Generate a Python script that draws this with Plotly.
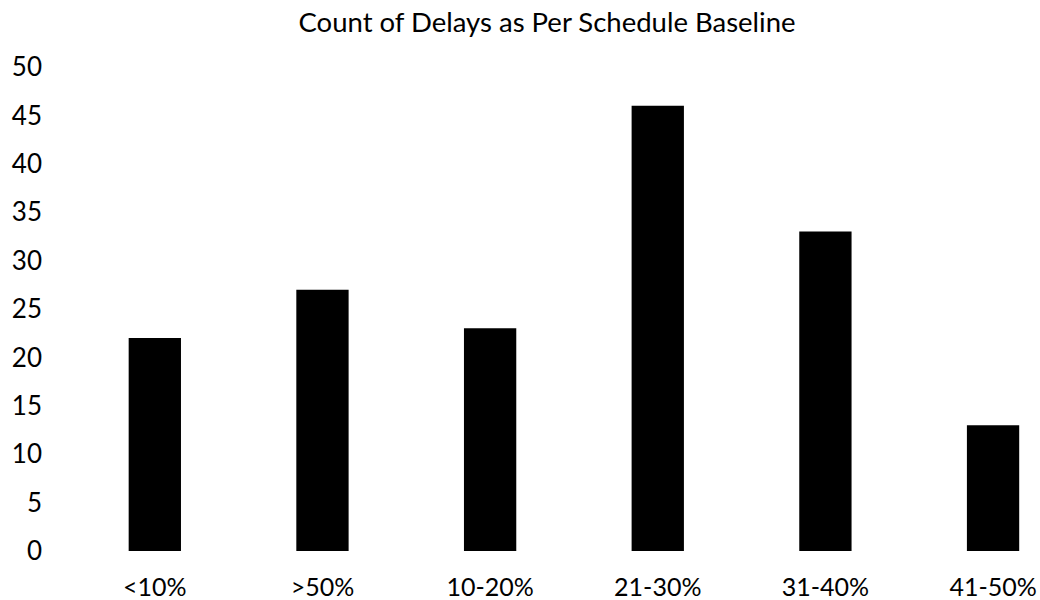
import plotly.graph_objects as go

# Delay buckets and how many activities fell into each
categories = ["<10%", ">50%", "10-20%", "21-30%", "31-40%", "41-50%"]
counts = [22, 27, 23, 46, 33, 13]
y_ticks = [0, 5, 10, 15, 20, 25, 30, 35, 40, 45, 50]

FONT = "Lato, 'Open Sans', sans-serif"

fig = go.Figure(
    go.Bar(
        x=categories,
        y=counts,
        width=0.312,
        marker=dict(color="#000000", line=dict(width=0)),
        hoverinfo="x+y",
    )
)

fig.update_layout(
    width=1040,
    height=600,
    margin=dict(l=71, r=0, t=67, b=49),
    paper_bgcolor="white",
    plot_bgcolor="white",
    showlegend=False,
    font=dict(family=FONT, color="#000000"),
    title=dict(
        text="Count of Delays as Per Schedule Baseline",
        xref="container",
        yref="container",
        x=0.526,
        xanchor="center",
        y=1 - 22 / 600,
        yanchor="middle",
        font=dict(family=FONT, size=27.5, color="#000000"),
    ),
)

fig.update_xaxes(
    type="category",
    range=[-0.5, 5.28],
    showgrid=False,
    showline=False,
    zeroline=False,
    ticks="",
    ticklabelstandoff=19,
    tickfont=dict(family=FONT, size=25, color="#000000"),
)

fig.update_yaxes(
    range=[0, 50],
    tickvals=y_ticks,
    ticktext=[str(v) for v in y_ticks],
    showgrid=False,
    showline=False,
    zeroline=False,
    ticks="",
    ticklabelstandoff=28,
    tickfont=dict(family=FONT, size=26, color="#000000"),
)

fig.write_html("out.html")
